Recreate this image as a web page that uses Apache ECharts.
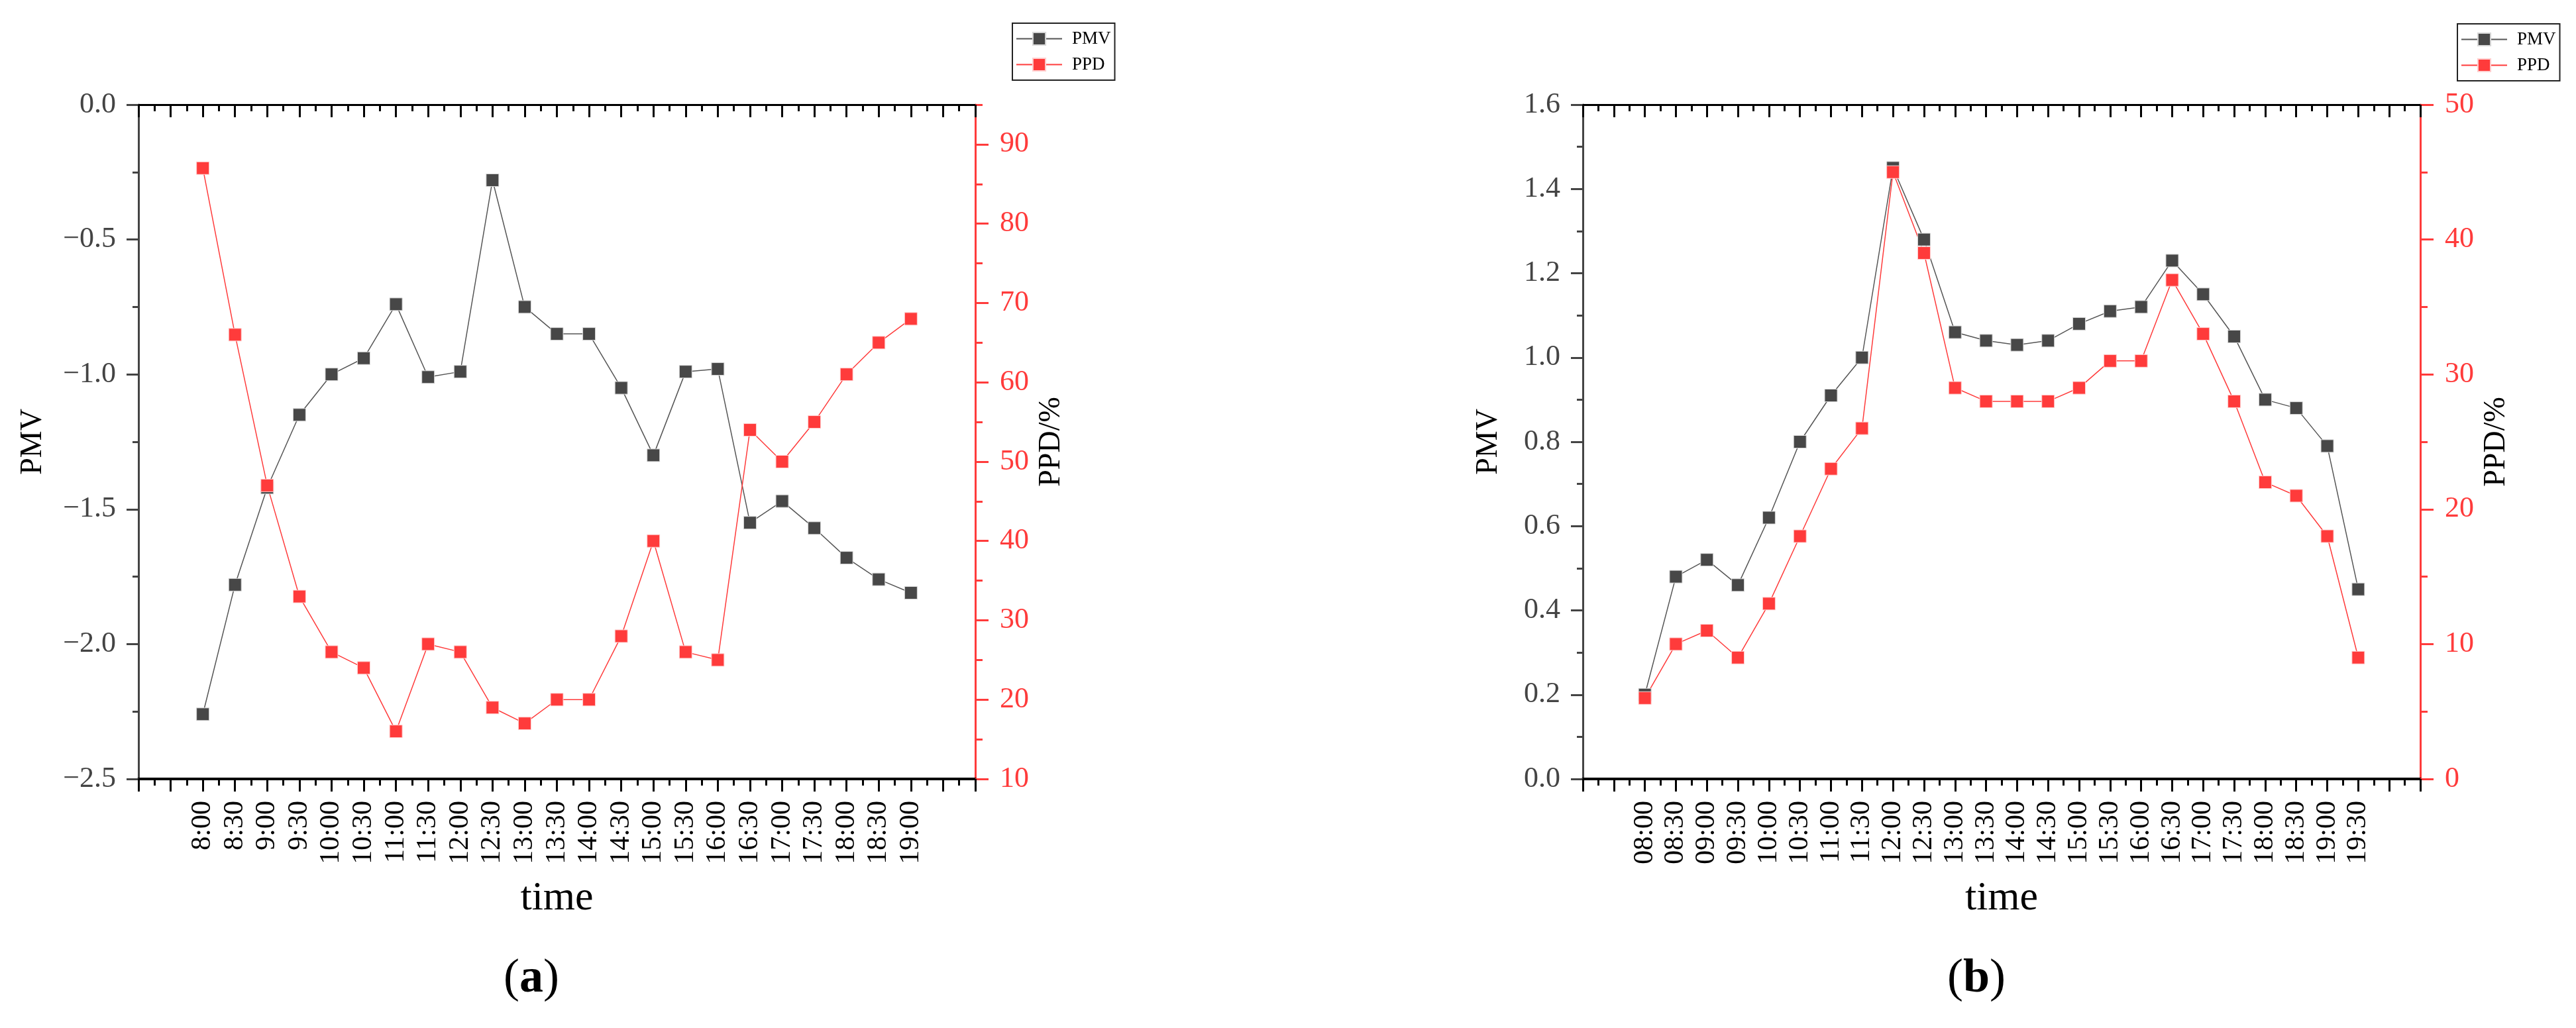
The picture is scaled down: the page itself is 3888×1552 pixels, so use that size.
<!DOCTYPE html>
<html>
<head>
<meta charset="utf-8">
<style>
  html, body { margin: 0; padding: 0; background: #fff; }
  #chart { width: 3888px; height: 1552px; }
</style>
<script src="https://cdn.jsdelivr.net/npm/echarts@6/dist/echarts.min.js"></script>
</head>
<body>
<div id="chart"></div>
<script>
// ---------------- DATA ----------------
const timesA = ['8:00','8:30','9:00','9:30','10:00','10:30','11:00','11:30','12:00','12:30','13:00','13:30',
                '14:00','14:30','15:00','15:30','16:00','16:30','17:00','17:30','18:00','18:30','19:00'];
const pmvA = [-2.26,-1.78,-1.42,-1.15,-1.00,-0.94,-0.74,-1.01,-0.99,-0.28,-0.75,-0.85,
              -0.85,-1.05,-1.30,-0.99,-0.98,-1.55,-1.47,-1.57,-1.68,-1.76,-1.81];
const ppdA = [87,66,47,33,26,24,16,27,26,19,17,20,20,28,40,26,25,54,50,55,61,65,68];

const timesB = ['08:00','08:30','09:00','09:30','10:00','10:30','11:00','11:30','12:00','12:30','13:00','13:30',
                '14:00','14:30','15:00','15:30','16:00','16:30','17:00','17:30','18:00','18:30','19:00','19:30'];
const pmvB = [0.20,0.48,0.52,0.46,0.62,0.80,0.91,1.00,1.45,1.28,1.06,1.04,
              1.03,1.04,1.08,1.11,1.12,1.23,1.15,1.05,0.90,0.88,0.79,0.45];
const ppdB = [6,10,11,9,13,18,23,26,45,39,29,28,28,28,29,31,31,37,33,28,22,21,18,9];

// axis ranges / tick values
const pmvAxisA = {min: -2.5, max: 0, step: 0.5};
const ppdAxisA = {min: 10, max: 95, step: 5};
const ppdMajorTicksA = [10, 20, 30, 40, 50, 60, 70, 80, 90];
const pmvAxisB = {min: 0, max: 1.6, step: 0.2};
const ppdAxisB = {min: 0, max: 50, step: 10};

// ---------------- STYLE ----------------
const FONT = '"Liberation Serif", "DejaVu Serif", serif';
const RED = '#ff3b3b';
const GRAY = '#444444';

const grids = [
  {left: 209, right: 3888 - 1472, top: 158, bottom: 1552 - 1176},
  {left: 2389, right: 3888 - 3653, top: 158, bottom: 1552 - 1176}
];

function bottomX(gi, cats) {
  return {
    type: 'value', gridIndex: gi, position: 'bottom',
    min: -2, max: cats.length + 1, interval: 1,
    axisLine: {show: true, onZero: false, lineStyle: {color: '#000', width: 4}},
    axisTick: {show: true, inside: false, length: 19, lineStyle: {color: '#000', width: 3}},
    minorTick: {show: true, splitNumber: 2, length: 10, lineStyle: {color: '#000', width: 3}},
    splitLine: {show: false}, minorSplitLine: {show: false},
    axisLabel: {
      rotate: 90, margin: 33, fontSize: 42, color: '#000', fontFamily: FONT,
      formatter: v => { const i = Math.round(v); return (i >= 0 && i < cats.length) ? cats[i] : ''; }
    },
    name: 'time', nameLocation: 'middle', nameGap: 150,
    nameTextStyle: {fontSize: 62, fontFamily: FONT, color: '#000'}
  };
}
function topX(gi, cats) {
  return {
    type: 'value', gridIndex: gi, position: 'top',
    min: -2, max: cats.length + 1, interval: 1,
    axisLine: {show: true, onZero: false, lineStyle: {color: '#000', width: 3}},
    axisTick: {show: true, inside: true, length: 19, lineStyle: {color: '#000', width: 3}},
    minorTick: {show: true, splitNumber: 2, length: 10, lineStyle: {color: '#000', width: 3}},
    splitLine: {show: false}, minorSplitLine: {show: false},
    axisLabel: {show: false}
  };
}
function leftY(gi, ax, gap) {
  return {
    type: 'value', gridIndex: gi, position: 'left',
    min: ax.min, max: ax.max, interval: ax.step,
    axisLine: {show: true, onZero: false, lineStyle: {color: GRAY, width: 3}},
    axisTick: {show: true, inside: false, length: 18, lineStyle: {color: GRAY, width: 3}},
    minorTick: {show: true, splitNumber: 2, length: 9, lineStyle: {color: GRAY, width: 3}},
    splitLine: {show: false}, minorSplitLine: {show: false},
    axisLabel: {
      margin: 34, fontSize: 44, color: GRAY, fontFamily: FONT,
      formatter: v => (v < -1e-9 ? '\u2212' : '') + Math.abs(v).toFixed(1)
    },
    name: 'PMV', nameLocation: 'middle', nameGap: gap,
    nameTextStyle: {fontSize: 46, fontFamily: FONT, color: '#000'}
  };
}

const option = {
  animation: false,
  backgroundColor: '#fff',
  grid: grids.map(g => Object.assign({outerBoundsMode: 'none', containLabel: false}, g)),
  legend: [
    {
      orient: 'vertical', left: 1528, top: 35, align: 'left',
      data: ['PMV', 'PPD'],
      itemWidth: 69, itemHeight: 24, itemGap: 12,
      padding: [10, 6, 10, 5],
      borderColor: '#222', borderWidth: 2,
      textStyle: {fontSize: 27, fontFamily: FONT, color: '#000', padding: [0, 0, 0, 10]}
    },
    {
      orient: 'vertical', left: 3709, top: 36, align: 'left',
      data: ['PMV', 'PPD'],
      itemWidth: 69, itemHeight: 24, itemGap: 12,
      padding: [10, 6, 10, 5],
      borderColor: '#222', borderWidth: 2,
      textStyle: {fontSize: 27, fontFamily: FONT, color: '#000', padding: [0, 0, 0, 10]}
    }
  ],
  xAxis: [
    bottomX(0, timesA), topX(0, timesA),
    bottomX(1, timesB), topX(1, timesB)
  ],
  yAxis: [
    leftY(0, pmvAxisA, 136),
    {
      type: 'value', gridIndex: 0, position: 'right',
      min: ppdAxisA.min, max: ppdAxisA.max, interval: ppdAxisA.step,
      axisLine: {show: true, onZero: false, lineStyle: {color: RED, width: 3}},
      axisTick: {show: true, inside: false, length: 11, lineStyle: {color: RED, width: 3}},
      splitLine: {show: false},
      axisLabel: {
        margin: 37, fontSize: 44, color: RED, fontFamily: FONT,
        formatter: v => (Math.abs(v % 10) < 1e-9 && v < 95) ? String(v) : ''
      },
      name: 'PPD/%', nameLocation: 'middle', nameGap: 92,
      nameTextStyle: {fontSize: 46, fontFamily: FONT, color: '#000'}
    },
    {
      type: 'value', gridIndex: 0, position: 'right',
      min: ppdAxisA.min, max: ppdAxisA.max, interval: 10,
      axisLine: {show: false, onZero: false},
      axisTick: {show: true, inside: false, length: 20, customValues: ppdMajorTicksA, lineStyle: {color: RED, width: 3}},
      splitLine: {show: false},
      axisLabel: {show: false}
    },
    leftY(1, pmvAxisB, 119),
    {
      type: 'value', gridIndex: 1, position: 'right',
      min: ppdAxisB.min, max: ppdAxisB.max, interval: ppdAxisB.step,
      axisLine: {show: true, onZero: false, lineStyle: {color: RED, width: 3}},
      axisTick: {show: true, inside: false, length: 20, lineStyle: {color: RED, width: 3}},
      minorTick: {show: true, splitNumber: 2, length: 11, lineStyle: {color: RED, width: 3}},
      splitLine: {show: false}, minorSplitLine: {show: false},
      axisLabel: {margin: 37, fontSize: 44, color: RED, fontFamily: FONT},
      name: 'PPD/%', nameLocation: 'middle', nameGap: 92,
      nameTextStyle: {fontSize: 46, fontFamily: FONT, color: '#000'}
    }
  ],
  series: [
    {
      type: 'line', name: 'PMV', xAxisIndex: 0, yAxisIndex: 0,
      data: pmvA.map((v, i) => [i, v]),
      symbol: 'rect', symbolSize: 19,
      lineStyle: {color: '#555', width: 1.5},
      itemStyle: {color: '#474747', borderColor: '#d8d8d8', borderWidth: 1}
    },
    {
      type: 'line', name: 'PPD', xAxisIndex: 0, yAxisIndex: 1,
      data: ppdA.map((v, i) => [i, v]),
      symbol: 'rect', symbolSize: 19,
      lineStyle: {color: RED, width: 1.5},
      itemStyle: {color: RED, borderColor: '#ffd0d0', borderWidth: 1}
    },
    {
      type: 'line', name: 'PMV', xAxisIndex: 2, yAxisIndex: 3,
      data: pmvB.map((v, i) => [i, v]),
      symbol: 'rect', symbolSize: 19,
      lineStyle: {color: '#555', width: 1.5},
      itemStyle: {color: '#474747', borderColor: '#d8d8d8', borderWidth: 1}
    },
    {
      type: 'line', name: 'PPD', xAxisIndex: 2, yAxisIndex: 4,
      data: ppdB.map((v, i) => [i, v]),
      symbol: 'rect', symbolSize: 19,
      lineStyle: {color: RED, width: 1.5},
      itemStyle: {color: RED, borderColor: '#ffd0d0', borderWidth: 1}
    }
  ],
  graphic: [
    {
      type: 'text', x: 802, y: 1478,
      style: {
        text: '{p|(}{b|a}{p|)}', align: 'center', verticalAlign: 'middle',
        textAlign: 'center', textVerticalAlign: 'middle',
        rich: {
          p: {fontSize: 72, fontFamily: FONT, fill: '#000', color: '#000'},
          b: {fontSize: 72, fontFamily: FONT, fontWeight: 'bold', fill: '#000', color: '#000'}
        }
      }
    },
    {
      type: 'text', x: 2983, y: 1478,
      style: {
        text: '{p|(}{b|b}{p|)}', align: 'center', verticalAlign: 'middle',
        textAlign: 'center', textVerticalAlign: 'middle',
        rich: {
          p: {fontSize: 72, fontFamily: FONT, fill: '#000', color: '#000'},
          b: {fontSize: 72, fontFamily: FONT, fontWeight: 'bold', fill: '#000', color: '#000'}
        }
      }
    }
  ]
};

const chart = echarts.init(document.getElementById('chart'), null, {renderer: 'canvas'});
chart.setOption(option);
</script>
</body>
</html>
